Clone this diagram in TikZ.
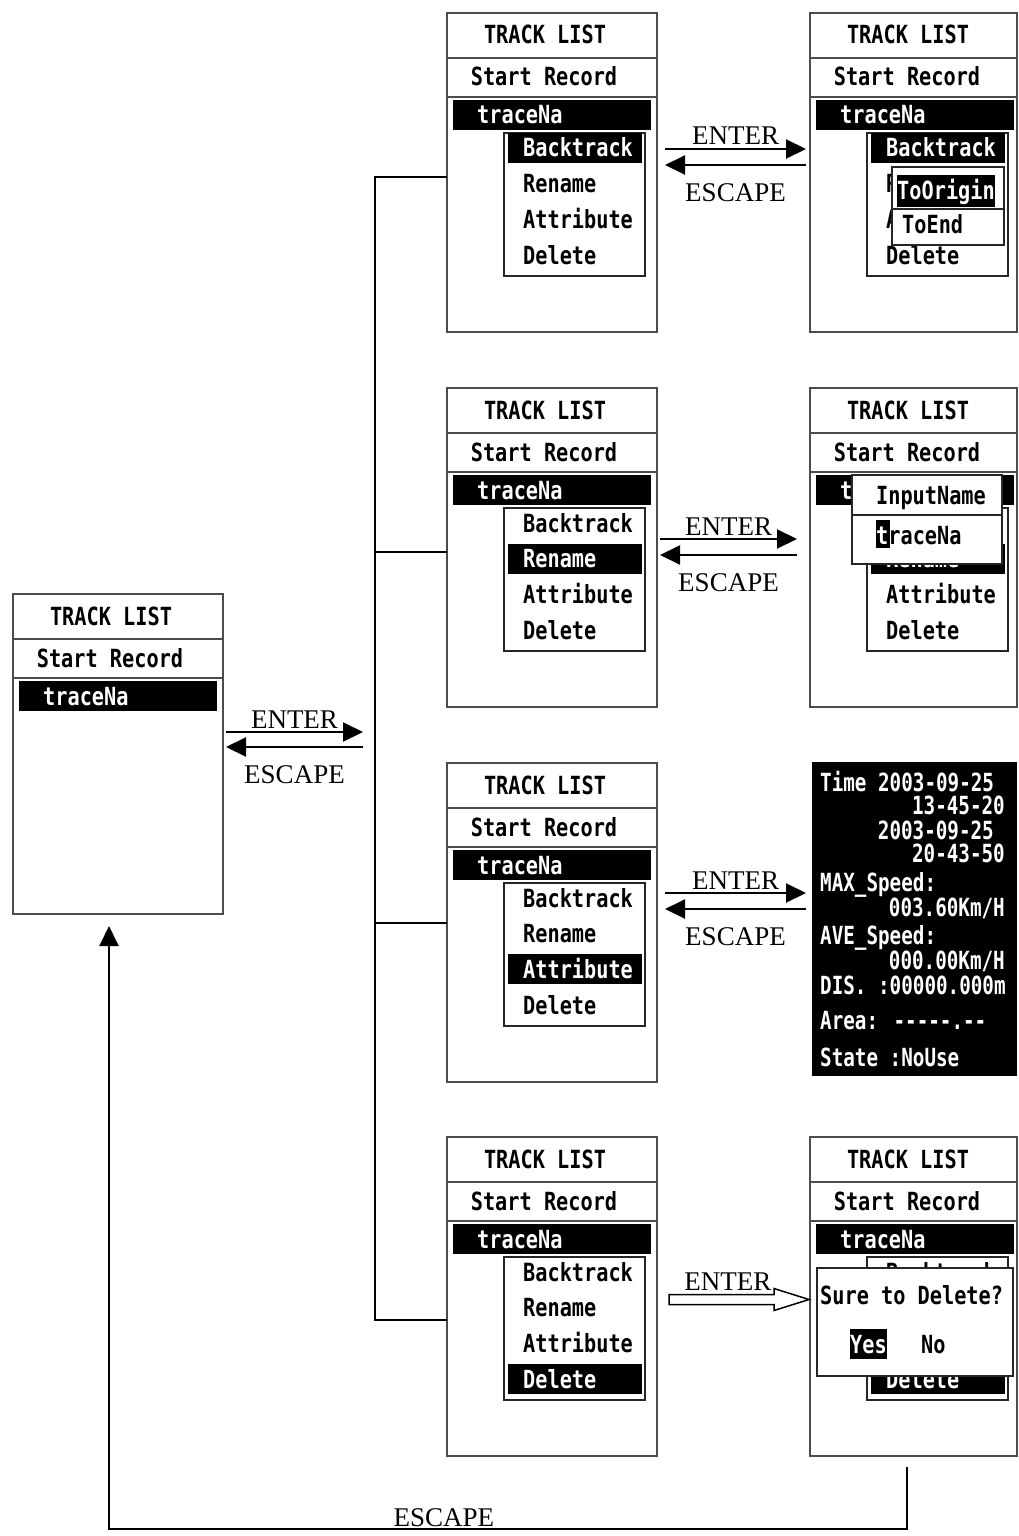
\documentclass[tikz,border=0pt]{standalone}
\usepackage{fontspec}
\setmainfont{Liberation Serif}
\newfontfamily\lcdfont{DejaVu Sans Mono}[FakeStretch=0.81]
\newfontfamily\lcdnarrow{DejaVu Sans Mono}[FakeStretch=0.77]
\usepackage{tikz}
\usetikzlibrary{arrows.meta,calc}
\definecolor{frame}{gray}{0.3}

% upper part of a TRACK LIST screen: title, Start Record, selected traceNa
\newcommand{\tracktop}[1]{%
  \draw[rule] ([yshift=-45pt]#1.north west) -- ([yshift=-45pt]#1.north east);
  \draw[rule] ([yshift=-84pt]#1.north west) -- ([yshift=-84pt]#1.north east);
  \node[lcd] (#1-title) at ([shift={(98,22)}]#1.north west) {TRACK LIST};
  \node[lcd] (#1-start) at ([shift={(97,64)}]#1.north west) {Start Record};
  \fill ([shift={(6,87)}]#1.north west) rectangle ([shift={(204,117)}]#1.north west);
  \node[lcd, anchor=west, text=white] (#1-trace) at ([shift={(30,102)}]#1.north west) {traceNa};
}
% pop-up menu of a track, #2 = highlighted row
\newcommand{\trackmenu}[2]{%
  \node[menu] (#1-menu) at ([shift={(57,120)}]#1.north west) {};
  \fill ([shift={(61,{120+35.7*(#2-1)})}]#1.north west) rectangle ++(134,30);
  \foreach \entry [count=\i] in {Backtrack,Rename,Attribute,Delete}{
    \ifnum\i=#2 \def\ink{white}\else\def\ink{black}\fi
    \node[lcd, anchor=west, text=\ink] (#1-m\i) at ([shift={(76,{135+35.7*(\i-1)})}]#1.north west) {\entry};
  }
}

\begin{document}
\begin{tikzpicture}[
  x=1pt, y=-1pt,
  screen/.style={draw=frame, line width=2.5pt, anchor=north west, inner sep=0pt, outer sep=0pt,
    minimum width=210pt, minimum height=319pt},
  rule/.style={draw=frame, line width=2pt},
  menu/.style={draw=black!85, line width=2pt, fill=white, anchor=north west, inner sep=0pt, outer sep=0pt,
    minimum width=141pt, minimum height=143pt},
  lcd/.style={font=\lcdfont\bfseries\fontsize{25}{28}\selectfont, inner sep=0pt, text height=18pt, text depth=0pt},
  info/.style={lcd, font=\lcdnarrow\bfseries\fontsize{25}{28}\selectfont, text=white},
  lbl/.style={font=\fontsize{27}{30}\selectfont, inner sep=0pt, text height=18pt, text depth=0pt},
  enterlbl/.style={lbl, midway, anchor=south, yshift=3pt},
  esclbl/.style={lbl, midway, anchor=north, yshift=-17pt},
  arr/.style={-{Triangle[length=20pt,width=19pt]}, line width=2pt},
  link/.style={line width=2pt}
]
\useasboundingbox (0,0) rectangle (1019,1536);

% screens
\node[screen, minimum height=320pt] (s0) at (13,594) {};
\node[screen] (m1) at (447,13) {};
\node[screen] (m2) at (447,388) {};
\node[screen] (m3) at (447,763) {};
\node[screen] (m4) at (447,1137) {};
\node[screen, minimum width=207pt] (r1) at (810,13) {};
\node[screen, minimum width=207pt] (r2) at (810,388) {};
\node[screen, fill=black, draw=black, minimum width=203pt, minimum height=312pt] (r3) at (813,763) {};
\node[screen, minimum width=207pt] (r4) at (810,1137) {};

\tracktop{s0}
\tracktop{m1} \trackmenu{m1}{1}
\tracktop{m2} \trackmenu{m2}{2}
\tracktop{m3} \trackmenu{m3}{3}
\tracktop{m4} \trackmenu{m4}{4}

% backtrack choice
\tracktop{r1} \trackmenu{r1}{1}
\node[menu, minimum width=112pt, minimum height=78pt] (r1-sub) at ([shift={(82,154)}]r1.north west) {};
\draw[rule, draw=black!85] ([shift={(82,196)}]r1.north west) -- ([shift={(194,196)}]r1.north west);
\fill ([shift={(87,162)}]r1.north west) rectangle ++(98,32);
\node[lcd, text=white] (r1-origin) at ([shift={(136,177)}]r1.north west) {ToOrigin};
\node[lcd, anchor=west] (r1-end) at ([shift={(92,211)}]r1.north west) {ToEnd};

% rename input
\tracktop{r2} \trackmenu{r2}{2}
\node[menu, minimum width=150pt, minimum height=89pt] (r2-input) at ([shift={(42,87)}]r2.north west) {};
\draw[rule, draw=black!85] ([shift={(42,127)}]r2.north west) -- ([shift={(192,127)}]r2.north west);
\node[lcd] (r2-prompt) at ([shift={(121,107)}]r2.north west) {InputName};
\fill ([shift={(66,132)}]r2.north west) rectangle ++(14,28);
\node[lcd, anchor=west] (r2-name) at ([shift={(66,147)}]r2.north west) {\textcolor{white}{t}raceNa};

% attribute page
\node[info, anchor=west] (r3-time) at ([shift={(7,19)}]r3.north west) {Time 2003-09-25};
\node[info, anchor=east] (r3-t1) at ([shift={(192,42)}]r3.north west) {13-45-20};
\node[info, anchor=east] (r3-d2) at ([shift={(181,67)}]r3.north west) {2003-09-25};
\node[info, anchor=east] (r3-t2) at ([shift={(192,90)}]r3.north west) {20-43-50};
\node[info, anchor=west] (r3-max) at ([shift={(7,119)}]r3.north west) {MAX\_Speed:};
\node[info, anchor=east] (r3-maxv) at ([shift={(192,144)}]r3.north west) {003.60Km/H};
\node[info, anchor=west] (r3-ave) at ([shift={(7,172)}]r3.north west) {AVE\_Speed:};
\node[info, anchor=east] (r3-avev) at ([shift={(192,197)}]r3.north west) {000.00Km/H};
\node[info, anchor=west] (r3-dis) at ([shift={(7,222)}]r3.north west) {DIS. :00000.000m};
\node[info, anchor=west] (r3-area) at ([shift={(7,257)}]r3.north west) {Area: -\kern0pt-\kern0pt-\kern0pt-\kern0pt-.-\kern0pt-};
\node[info, anchor=west] (r3-state) at ([shift={(7,294)}]r3.north west) {State :NoUse};

% delete confirmation
\tracktop{r4} \trackmenu{r4}{4}
\node[menu, minimum width=196pt, minimum height=108pt] (r4-ask) at ([shift={(7,131)}]r4.north west) {};
\node[lcd, anchor=west] (r4-q) at ([shift={(10,158)}]r4.north west) {Sure to Delete?};
\fill ([shift={(40,192)}]r4.north west) rectangle ++(37,30);
\node[lcd, text=white] (r4-yes) at ([shift={(58.5,207)}]r4.north west) {Yes};
\node[lcd, anchor=west] (r4-no) at ([shift={(111,207)}]r4.north west) {No};

% connectors
\coordinate (fork) at (375,740);
\draw[arr] ([shift={(3,-22)}]s0.east) -- ([shift={(-12,-8)}]fork) node[enterlbl]{ENTER};
\draw[arr] ([shift={(-12,7)}]fork) -- ([shift={(3,-7)}]s0.east) node[esclbl]{ESCAPE};
\draw[link] ([yshift=-4.5pt]m1.west) -| (fork) |- ([yshift=-23pt]m4.west);
\draw[link] ([yshift=-4pt]m2.west) -| (fork);
\draw[link] (m3.west) -| (fork);

\draw[arr] ([shift={(8,-23.5)}]m1.east) -- ([shift={(-4,-23.5)}]r1.west) node[enterlbl]{ENTER};
\draw[arr] ([shift={(-4,-7.5)}]r1.west) -- ([shift={(8,-7.5)}]m1.east) node[esclbl]{ESCAPE};
\draw[arr] ([shift={(3,-8.5)}]m2.east) -- ([shift={(-13,-8.5)}]r2.west) node[enterlbl]{ENTER};
\draw[arr] ([shift={(-13,7.5)}]r2.west) -- ([shift={(3,7.5)}]m2.east) node[esclbl]{ESCAPE};
\draw[arr] ([shift={(8,-29.5)}]m3.east) -- ([shift={(-7,-26)}]r3.west) node[enterlbl]{ENTER};
\draw[arr] ([shift={(-7,-10)}]r3.west) -- ([shift={(8,-13.5)}]m3.east) node[esclbl]{ESCAPE};
\draw[line width=1.5pt, fill=white] ([shift={(12,-2)}]m4.east) -- ++(105,0) node[enterlbl, pos=0.56]{ENTER}
  -- ++(0,-6) -- ([shift={(-1,3)}]r4.west) -- ++(-35,11) -- ++(0,-6) -- ++(-105,0) -- cycle;
\draw[arr] ([shift={(-7,11)}]r4.south) -- ++(0,62) -| ([shift={(-9,12)}]s0.south)
  node[lbl, pos=0.29, anchor=south, yshift=2pt]{ESCAPE};
\end{tikzpicture}
\end{document}
